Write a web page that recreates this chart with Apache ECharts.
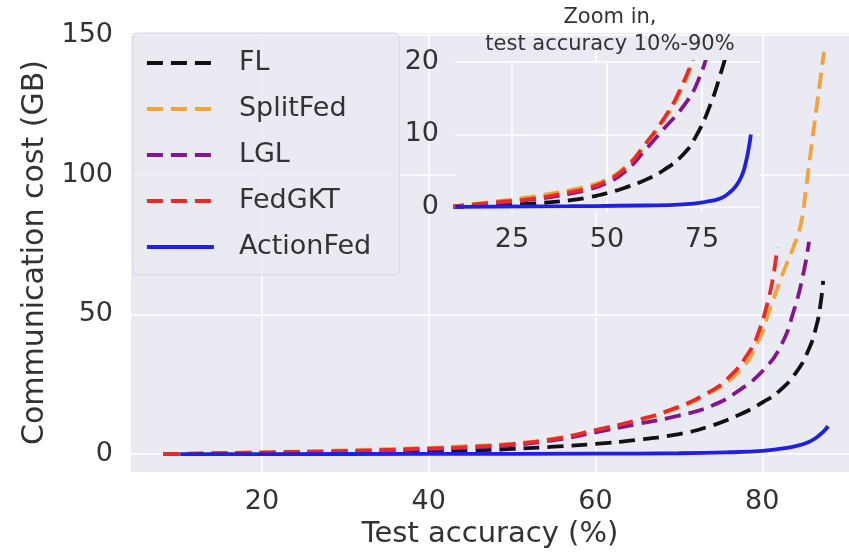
<!DOCTYPE html>
<html><head><meta charset="utf-8">
<script src="https://cdn.jsdelivr.net/npm/echarts@6/dist/echarts.min.js"></script>
<style>html,body{margin:0;padding:0;background:#fff}#c{width:849px;height:554px}</style>
</head><body><div id="c"></div>
<script>
// ---- data ----
const seriesNames = ['FL', 'SplitFed', 'LGL', 'FedGKT', 'ActionFed'];
const flX = [8.2, 20, 30, 40, 45, 50, 55, 60, 65, 70, 73.5, 77, 80, 82, 84, 85.5, 86.5, 87, 87.3];
const flY = [0, 0.2, 0.45, 0.9, 1.3, 1.9, 2.7, 3.7, 5.1, 7.2, 9.8, 13.8, 18.5, 22.5, 29, 37, 46, 54, 62];
const splitX = [8.2, 20, 30, 40, 45, 50, 55, 60, 65, 69, 73, 77, 79.4, 81, 82.6, 83.6, 84.6, 85.2, 85.8, 86.6, 87.4];
const splitY = [0, 0.7, 1.4, 2.3, 2.9, 3.8, 5.6, 8.5, 12.0, 15.6, 20.8, 29, 39.7, 52.7, 65.7, 73, 82, 94, 108, 126, 144];
const lglX = [8.2, 20, 30, 40, 45, 50, 55, 60, 65, 70, 74, 77.4, 80.2, 82.2, 83.8, 85, 85.6];
const lglY = [0, 0.5, 1.0, 1.8, 2.4, 3.3, 5.0, 7.8, 10.8, 13.8, 17.4, 23.2, 30.3, 38.6, 51.5, 65.7, 76];
const gktX = [8.2, 20, 30, 40, 45, 50, 55, 60, 65, 69, 73, 76, 78.6, 79.6, 80.5, 81.3, 81.8];
const gktY = [0, 0.6, 1.1, 2.0, 2.6, 3.6, 5.4, 8.6, 12.2, 15.9, 21.2, 27.5, 37.4, 44, 52.7, 63.4, 74];
const actX = [10.2, 20, 40, 60, 70, 76, 80, 82.3, 84, 85.5, 86.5, 87.3, 87.9];
const actY = [0, 0.05, 0.1, 0.2, 0.35, 0.7, 1.2, 2.0, 2.9, 4.3, 6, 8, 10];
const mainXTicks = [20, 40, 60, 80];
const mainYTicks = [0, 50, 100, 150];
const insetXTicks = [25, 50, 75];
const insetYTicks = [0, 10, 20];
const insetTitle = 'Zoom in,\ntest accuracy 10%-90%';

const xs = [flX, splitX, lglX, gktX, actX];
const ys = [flY, splitY, lglY, gktY, actY];
const colors = ['#111111', '#F2A43A', '#83168E', '#EA2A2A', '#1F1FE6'];
const dashed = [true, true, true, true, false];

const FONT = 'DejaVu Sans';
const TXT = '#333333';
const BG = '#EAEAF2';

function pairs(x, y) { return x.map((v, i) => [v, y[i]]); }

const series = [];
for (let g = 0; g < 2; g++) {
  seriesNames.forEach((n, i) => {
    series.push({
      name: n, type: 'line', xAxisIndex: g, yAxisIndex: g,
      data: pairs(xs[i], ys[i]), showSymbol: false, symbol: 'none',
      smooth: 0.5, clip: true,
      z: g === 0 ? 2 : 5,
      lineStyle: { color: colors[i], width: 3.8, type: dashed[i] ? [16, 8] : 'solid' },
      itemStyle: { color: colors[i] },
      emphasis: { disabled: true }
    });
  });
}

function xAxis(gi, min, max, ticks, extra) {
  return Object.assign({
    type: 'value', gridIndex: gi, min: min, max: max,
    axisLine: { show: false },
    axisTick: { show: false, customValues: ticks },
    axisLabel: { customValues: ticks, color: TXT, fontFamily: FONT, fontSize: 27, margin: 14 },
    splitLine: { show: true, lineStyle: { color: '#ffffff', width: 1.6 } }
  }, extra || {});
}
function yAxis(gi, min, max, ticks, extra) {
  return Object.assign({
    type: 'value', gridIndex: gi, min: min, max: max,
    axisLine: { show: false },
    axisTick: { show: false, customValues: ticks },
    axisLabel: { customValues: ticks, color: TXT, fontFamily: FONT, fontSize: 27, margin: 18 },
    splitLine: { show: true, lineStyle: { color: '#ffffff', width: 1.6 } }
  }, extra || {});
}

const chart = echarts.init(document.getElementById('c'), null, { renderer: 'canvas' });
chart.setOption({
  animation: false,
  backgroundColor: '#ffffff',
  grid: [
    { left: 131, right: 0, top: 33, bottom: 77, show: true, backgroundColor: BG, borderWidth: 0, z: 0 },
    { left: 455, right: 89, top: 62, bottom: 342, show: true, backgroundColor: BG, borderWidth: 0, z: 3 }
  ],
  xAxis: [
    xAxis(0, 4.3, 90.4, mainXTicks, {
      name: 'Test accuracy (%)', nameLocation: 'middle', nameGap: 46,
      nameTextStyle: { color: TXT, fontFamily: FONT, fontSize: 29 },
      axisLabel: { customValues: mainXTicks, color: TXT, fontFamily: FONT, fontSize: 27, margin: 16 }
    }),
    xAxis(1, 10, 90.3, insetXTicks, { z: 3 })
  ],
  yAxis: [
    yAxis(0, -6.4, 150.7, mainYTicks, {
      name: 'Communication cost (GB)', nameLocation: 'middle', nameGap: 76,
      nameTextStyle: { color: TXT, fontFamily: FONT, fontSize: 30 }
    }),
    yAxis(1, -0.7, 20, insetYTicks, { z: 3,
      axisLabel: { customValues: insetYTicks, color: TXT, fontFamily: FONT, fontSize: 27, margin: 16 } })
  ],
  legend: {
    data: seriesNames, orient: 'vertical', left: 133, top: 33,
    itemWidth: 67, itemHeight: 14, itemGap: 14,
    padding: [14, 28, 12, 12],
    itemStyle: { opacity: 0 },
    lineStyle: { width: 3.8 },
    backgroundColor: 'rgba(234,234,242,0.8)', borderColor: '#d6d6de', borderWidth: 1, borderRadius: 6,
    textStyle: { color: TXT, fontFamily: FONT, fontSize: 27, lineHeight: 32, padding: [0, 0, 0, 20] },
    selectedMode: false, z: 10
  },
  graphic: [
    { type: 'text', x: 610, y: 4, z: 10,
      style: { text: insetTitle, fontFamily: FONT, fontSize: 21, lineHeight: 27, fill: TXT, textAlign: 'center' } }
  ],
  series: series
});
</script>
</body></html>
